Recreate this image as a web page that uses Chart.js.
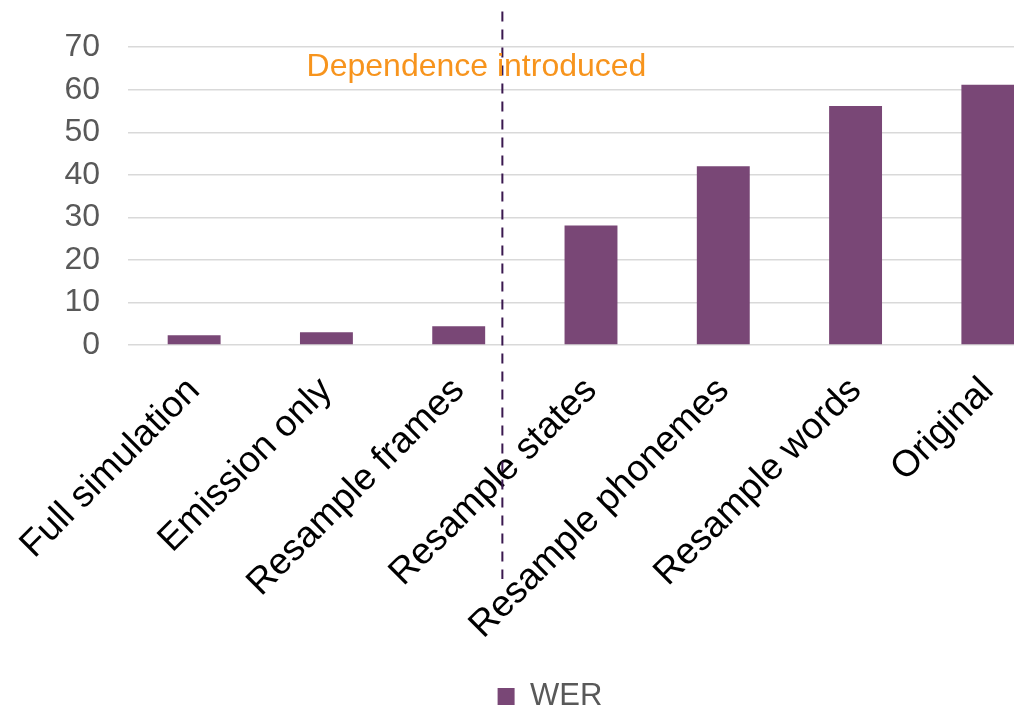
<!DOCTYPE html>
<html>
<head>
<meta charset="utf-8">
<script src="https://cdn.jsdelivr.net/npm/chart.js@4"></script>
<style>
  html, body { margin: 0; padding: 0; background: #fff; overflow: hidden; }
  #wrap { width: 1054px; height: 722px; }
</style>
</head>
<body>
<div id="wrap"><canvas id="chart"></canvas></div>
<script>
const categories = ['Full simulation', 'Emission only', 'Resample frames', 'Resample states',
  'Resample phonemes', 'Resample words', 'Original'];
const werValues = [2.3, 3.0, 4.4, 28.1, 42.0, 56.2, 61.2];
const yTicks = [0, 10, 20, 30, 40, 50, 60, 70];

// where the dashed divider sits on the category axis, and the note text
const dividerAt = 2.33;
const noteText = 'Dependence introduced';
const noteAt = { x: 0.85, y: 63.3 };
const dividerSpan = [78.4, -55];

const FONT = '"Liberation Sans", Arial, sans-serif';

const dividerPlugin = {
  id: 'divider',
  afterDatasetsDraw(chart) {
    const { ctx, scales: { x, y } } = chart;
    const px = x.getPixelForValue(dividerAt);
    ctx.save();
    ctx.strokeStyle = '#3a184f';
    ctx.lineWidth = 2;
    ctx.setLineDash([10, 8]);
    ctx.beginPath();
    ctx.moveTo(px, y.getPixelForValue(dividerSpan[0]));
    ctx.lineTo(px, y.getPixelForValue(dividerSpan[1]));
    ctx.stroke();
    ctx.setLineDash([]);
    ctx.fillStyle = '#f7941d';
    ctx.font = '32px ' + FONT;
    ctx.textAlign = 'left';
    ctx.textBaseline = 'alphabetic';
    ctx.fillText(noteText, x.getPixelForValue(noteAt.x), y.getPixelForValue(noteAt.y));
    ctx.restore();
  }
};

new Chart(document.getElementById('chart').getContext('2d'), {
  type: 'bar',
  data: {
    labels: categories,
    datasets: [{
      label: 'WER',
      data: werValues,
      backgroundColor: '#794776',
      borderWidth: 0,
      categoryPercentage: 1,
      barPercentage: 0.4
    }]
  },
  options: {
    responsive: true,
    maintainAspectRatio: false,
    animation: false,
    layout: { padding: { left: 46, right: 0, top: 45, bottom: 0 } },
    plugins: {
      tooltip: { enabled: false },
      legend: {
        position: 'bottom',
        labels: {
          boxWidth: 17,
          boxHeight: 17,
          padding: 6,
          color: '#595959',
          font: { family: FONT, size: 31 }
        }
      }
    },
    scales: {
      x: {
        grid: { display: false },
        border: { display: false },
        ticks: {
          color: '#000',
          font: { family: FONT, size: 37 },
          minRotation: 45,
          maxRotation: 45,
          padding: 16,
          autoSkip: false
        },
        afterFit(s) { s.height = 330; }
      },
      y: {
        min: 0,
        max: 70,
        afterBuildTicks(s) { s.ticks = yTicks.map(v => ({ value: v })); },
        grid: { color: '#d9d9d9', lineWidth: 1.5, drawTicks: false },
        border: { display: false },
        ticks: {
          color: '#595959',
          font: { family: FONT, size: 32 },
          padding: 28
        },
        afterFit(s) { s.width = 82; }
      }
    }
  },
  plugins: [dividerPlugin]
});
</script>
</body>
</html>
